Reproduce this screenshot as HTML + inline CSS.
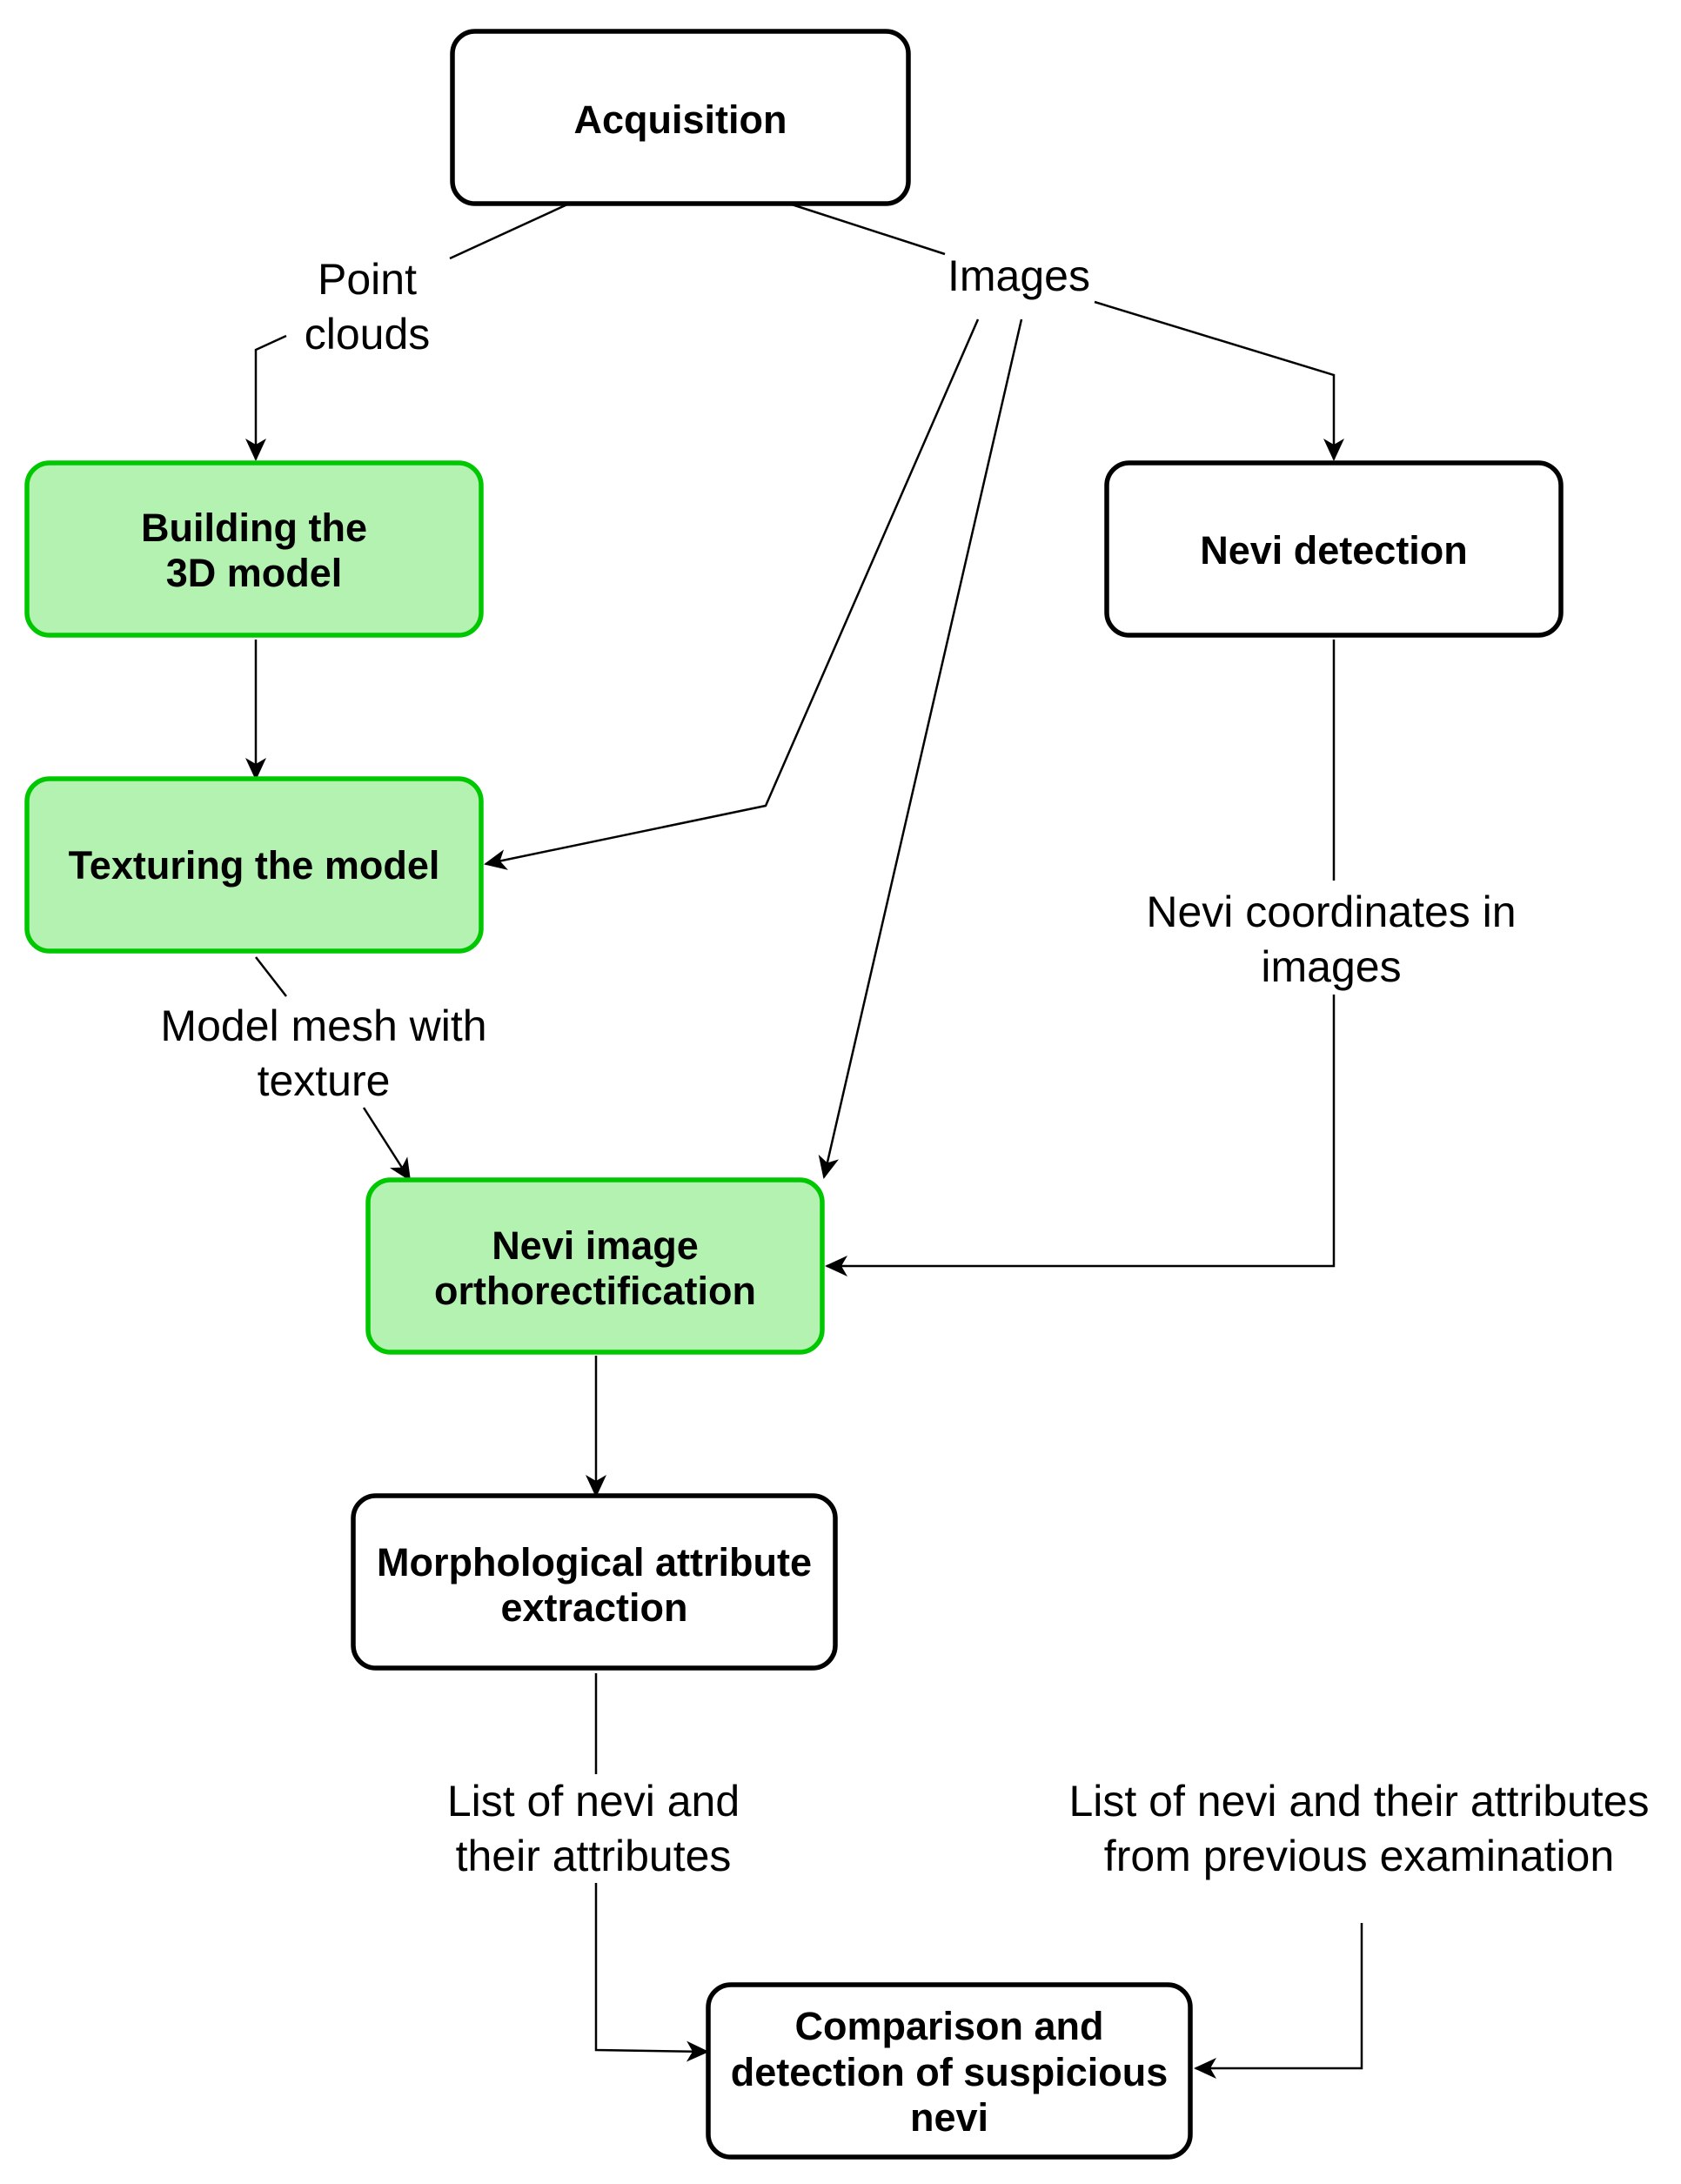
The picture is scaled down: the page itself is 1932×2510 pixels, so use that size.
<!DOCTYPE html>
<html><head><meta charset="utf-8"><style>
html,body{margin:0;padding:0;background:#fff}
svg{display:block}
.b{font-family:"Liberation Sans",Arial,sans-serif;font-weight:bold;font-size:45px;text-anchor:middle}
.l{font-family:"Liberation Sans",Arial,sans-serif;font-size:50px;text-anchor:middle}
</style></head><body>
<svg width="1932" height="2510" viewBox="0 0 1932 2510" xmlns="http://www.w3.org/2000/svg">
<defs>
<marker id="a" markerWidth="26" markerHeight="24" refX="24" refY="12" orient="auto" markerUnits="userSpaceOnUse">
<path d="M0,0 L26,12 L0,24 L7,12 Z" fill="#000"/>
</marker>
</defs>
<g fill="none" stroke="#000" stroke-width="2.5">
<polyline points="652,235 517,297"/>
<polyline points="329,386 294,402 294,528" marker-end="url(#a)"/>
<polyline points="910,235 1086,292"/>
<polyline points="1258,347 1533,431 1533,528" marker-end="url(#a)"/>
<polyline points="1124,367 880,926 558,993" marker-end="url(#a)"/>
<polyline points="1174,367 947,1353" marker-end="url(#a)"/>
<polyline points="294,735 294,895" marker-end="url(#a)"/>
<polyline points="294,1100 329,1145"/>
<polyline points="418,1273 471,1356" marker-end="url(#a)"/>
<polyline points="1533,735 1533,1012"/>
<polyline points="1533,1143 1533,1455 950,1455" marker-end="url(#a)"/>
<polyline points="685,1558 685,1719" marker-end="url(#a)"/>
<polyline points="685,1923 685,2039"/>
<polyline points="685,2164 685,2356 813,2358" marker-end="url(#a)"/>
<polyline points="1565,2210 1565,2377 1374,2377" marker-end="url(#a)"/>
</g>
<g stroke-width="5.5">
<rect x="520" y="36" width="524" height="198" rx="26" fill="#fff" stroke="#000"/>
<rect x="31" y="532" width="522" height="198" rx="26" fill="#b3f2b0" stroke="#00c800"/>
<rect x="31" y="895" width="522" height="198" rx="26" fill="#b3f2b0" stroke="#00c800"/>
<rect x="1272" y="532" width="522" height="198" rx="26" fill="#fff" stroke="#000"/>
<rect x="423" y="1356" width="522" height="198" rx="26" fill="#b3f2b0" stroke="#00c800"/>
<rect x="406" y="1719" width="554" height="198" rx="26" fill="#fff" stroke="#000"/>
<rect x="814" y="2281" width="554" height="198" rx="26" fill="#fff" stroke="#000"/>
</g>
<text class="b" x="782" y="153">Acquisition</text>
<text class="b" x="292" y="622">Building the</text>
<text class="b" x="292" y="674">3D model</text>
<text class="b" x="292" y="1010">Texturing the model</text>
<text class="b" x="1533" y="648">Nevi detection</text>
<text class="b" x="684" y="1447">Nevi image</text>
<text class="b" x="684" y="1499">orthorectification</text>
<text class="b" x="683" y="1811">Morphological attribute</text>
<text class="b" x="683" y="1863">extraction</text>
<text class="b" x="1091" y="2344">Comparison and</text>
<text class="b" x="1091" y="2397">detection of suspicious</text>
<text class="b" x="1091" y="2449">nevi</text>
<text class="l" x="422" y="338">Point</text>
<text class="l" x="422" y="401">clouds</text>
<text class="l" x="1171" y="334">Images</text>
<text class="l" x="372" y="1196">Model mesh with</text>
<text class="l" x="372" y="1259">texture</text>
<text class="l" x="1530" y="1065">Nevi coordinates in</text>
<text class="l" x="1530" y="1128">images</text>
<text class="l" x="682" y="2087">List of nevi and</text>
<text class="l" x="682" y="2150">their attributes</text>
<text class="l" x="1562" y="2087">List of nevi and their attributes</text>
<text class="l" x="1562" y="2150">from previous examination</text>
</svg>
</body></html>
